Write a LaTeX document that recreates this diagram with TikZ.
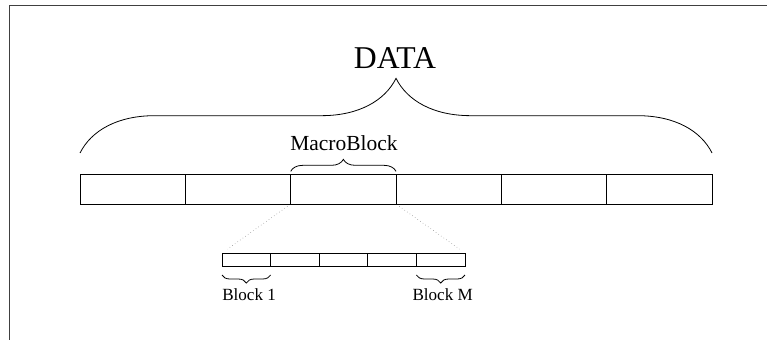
\documentclass[tikz,border=0pt]{standalone}
\usepackage{fontspec}
\setmainfont{Liberation Serif}
\usetikzlibrary{positioning,decorations.pathreplacing}

\tikzset{
  cell/.style={draw,line width=0.75pt,inner sep=0pt,outer sep=0pt,minimum width=79pt,minimum height=22.5pt},
  subcell/.style={draw,line width=0.6pt,inner sep=0pt,outer sep=0pt,minimum width=36.45pt,minimum height=9.75pt},
  curly/.style={decorate,decoration={brace,amplitude=#1},line width=0.6pt},
  label/.style={inner sep=0pt,font=\fontsize{#1}{#1}\selectfont}
}

\begin{document}
\begin{tikzpicture}[x=0.75pt,y=-0.75pt]
\useasboundingbox (0,0) rectangle (767,340);
% frame
\draw[line width=0.75pt,color=darkgray] (767,5) -- (9,5) -- (9,340);

% macroblocks
\node[cell] (m1) at (132.7,189) {};
\foreach \i [count=\j from 2] in {1,...,5}
	\node[cell,right=0pt of m\i] (m\j) {};

% blocks of one macroblock
\node[subcell] (b1) at (246.3,259.5) {};
\foreach \i [count=\j from 2] in {1,...,4}
	\node[subcell,right=0pt of b\i] (b\j) {};

% zoom lines
\draw[dotted,gray,shorten <=3pt,shorten >=5pt] (m3.south west) -- (b1.north west);
\draw[dotted,gray,shorten <=3pt,shorten >=5pt] (m3.south east) -- (b5.north east);

% braces
\draw[curly=56pt] ([yshift=15.75pt]m1.north west) -- ([yshift=15.75pt]m6.north east);
\draw[curly=9pt] ([yshift=2pt]m3.north west) -- ([yshift=2pt]m3.north east);
\draw[curly=6pt] ([yshift=-6.75pt]b1.south east) -- ([yshift=-6.75pt]b1.south west);
\draw[curly=6pt] ([yshift=-6.75pt]b5.south east) -- ([yshift=-6.75pt]b5.south west);

% labels
\node[label=23.8,anchor=base] (data) at (395,68) {DATA};
\node[label=16.1,anchor=base] (macro) at (344,150) {MacroBlock};
\node[label=12.8,anchor=base west] (first) at (222,300.7) {Block 1};
\node[label=12.8,anchor=base east] (last) at (473,300.7) {Block M};

\end{tikzpicture}
\end{document}
